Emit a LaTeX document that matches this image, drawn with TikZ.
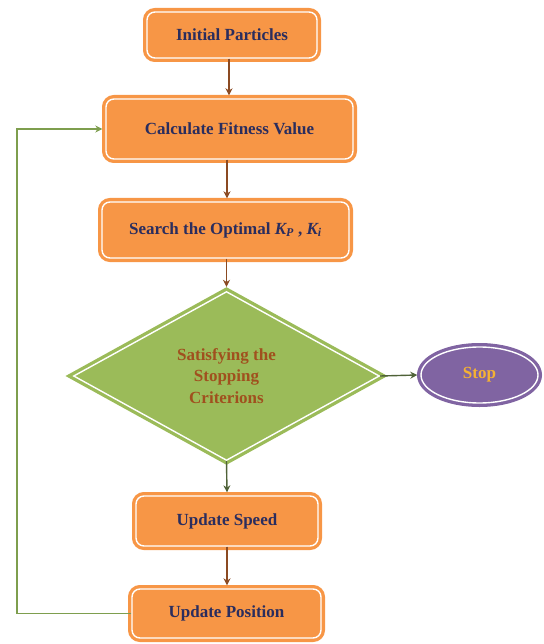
\documentclass[tikz,border=0pt]{standalone}
\usepackage{fontspec}
\setmainfont{Liberation Serif}
\usetikzlibrary{shapes.geometric,arrows.meta}
\definecolor{boxorange}{HTML}{F79646}
\definecolor{boxtext}{HTML}{2A2D5E}
\definecolor{dgreen}{HTML}{9BBB59}
\definecolor{dtext}{HTML}{A0501E}
\definecolor{spurple}{HTML}{8064A2}
\definecolor{stext}{HTML}{F5B233}
\definecolor{brownarr}{HTML}{8B4A22}
\definecolor{darkarr}{HTML}{4F6238}
\definecolor{loopgreen}{HTML}{7E9E4E}
\tikzset{
  x=1pt, y=-1pt,
  txt/.style={font=\fontsize{17}{21.5}\selectfont\bfseries},
  stepbox/.style={txt, text=boxtext, rectangle, rounded corners=8pt, fill=boxorange,
    draw=white, line width=1.4pt, preaction={draw=boxorange, line width=8pt},
    inner sep=0pt},
  decbox/.style={txt, text=dtext, diamond, fill=dgreen, draw=white, line width=1.4pt,
    preaction={draw=dgreen, line width=8pt}, inner sep=0pt, align=center},
  endbox/.style={txt, text=stext, ellipse, fill=spurple, draw=white, line width=1.4pt,
    preaction={draw=spurple, line width=8pt}, inner sep=0pt},
  arr/.style={line width=1.4pt, -{Stealth[length=7pt,width=7pt]}},
}
\newcommand{\kv}[1]{{\itshape K\textsubscript{#1}}}
\begin{document}
\begin{tikzpicture}
\useasboundingbox (0,0) rectangle (543,644);
\node[stepbox, minimum width=170pt, minimum height=46pt] (init) at (232,35) {Initial Particles};
\node[stepbox, minimum width=247pt, minimum height=60pt] (calc) at (229.5,129) {Calculate Fitness Value};
\node[stepbox, minimum width=247pt, minimum height=56pt] (search) at (225.5,230) {Search the Optimal \kv{P} , \kv{i}};
\node[decbox, minimum width=306pt, minimum height=169pt] (dec) at (226.5,376) {Satisfying the\\Stopping\\Criterions};
\node[endbox, minimum width=117pt, minimum height=56pt] (stop) at (479.5,375) {Stop};
\node[stepbox, minimum width=182pt, minimum height=50pt] (speed) at (227,521) {Update Speed};
\node[stepbox, minimum width=189pt, minimum height=49pt] (pos) at (226.5,613.5) {Update Position};
\coordinate (corner) at (17,613.5);
\draw[arr, brownarr] ([xshift=-3pt]init.south) -- ([xshift=-3pt,yshift=3pt]init.south |- calc.north);
\draw[arr, brownarr] ([xshift=-2.5pt]calc.south) -- ([xshift=-2.5pt,yshift=3pt]calc.south |- search.north);
\draw[arr, brownarr] ([xshift=1pt]search.south) -- ([yshift=4pt]dec.north);
\draw[arr, darkarr] (dec.south) -- ([yshift=3pt]speed.north);
\draw[arr, darkarr] (dec.east) -- ([xshift=-3pt]stop.west);
\draw[arr, brownarr] (speed.south) -- ([yshift=3pt]speed.south |- pos.north);
\draw[arr, loopgreen, -] (pos.west) -- (corner);
\draw[arr, loopgreen] (corner) |- ([xshift=-3pt]calc.west);
\end{tikzpicture}
\end{document}
